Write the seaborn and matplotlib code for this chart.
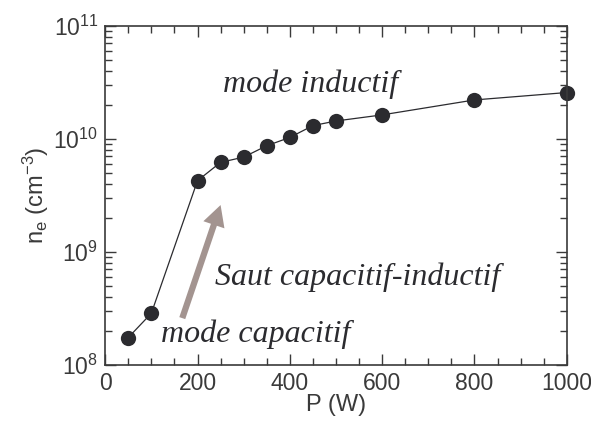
import numpy as np
import pandas as pd
import matplotlib.pyplot as plt
import seaborn as sns

# data
power_w = [50, 100, 200, 250, 300, 350, 400, 450, 500, 600, 800, 1000]
density_cm3 = [1.75e8, 2.87e8, 4.27e9, 6.2e9, 6.9e9, 8.7e9, 1.03e10, 1.31e10,
               1.44e10, 1.63e10, 2.21e10, 2.57e10]
x_ticks = [0, 200, 400, 600, 800, 1000]

df = pd.DataFrame({'P': power_w, 'ne': density_cm3})

sns.set_style('ticks')
plt.rcParams['font.family'] = ['Liberation Sans', 'DejaVu Sans']
plt.rcParams['mathtext.fontset'] = 'custom'
plt.rcParams['mathtext.rm'] = 'Liberation Sans'
plt.rcParams['mathtext.it'] = 'Liberation Sans'

fig = plt.figure(figsize=(5.91, 4.23), dpi=100)
ax = fig.add_axes([0.178, 0.137, 0.781, 0.802])

sns.lineplot(data=df, x='P', y='ne', ax=ax, color='#2b2b2f', lw=0.9,
             marker='o', markersize=11, markeredgewidth=0, markerfacecolor='#2b2b2f',
             clip_on=False)

ax.set_yscale('log')
ax.set_xlim(0, 1000)
ax.set_ylim(1e8, 1e11)
ax.set_xticks(x_ticks)
ax.set_xticks(np.arange(0, 1001, 50), minor=True)
ax.set_yticks([1e8, 1e9, 1e10, 1e11])

tc = '#3a3a3a'
ax.tick_params(which='both', direction='in', top=True, right=True, colors=tc,
               labelsize=16.5, width=1)
ax.tick_params(which='major', length=8)
ax.tick_params(which='minor', length=5)
ax.tick_params(axis='y', which='both', labelright=False, pad=5)
ax.tick_params(axis='x', pad=5)
for s in ax.spines.values():
    s.set_color(tc)
    s.set_linewidth(1.2)

ax.set_xlabel('P (W)', fontsize=17, color=tc, labelpad=-1)
ax.set_ylabel(r'n$_{\rm e}$ (cm$^{-3}$)', fontsize=17, color=tc, labelpad=2)

ax.annotate('', xy=(250, 2.6e9), xytext=(167, 2.6e8),
            arrowprops=dict(arrowstyle='simple,head_length=1.5,head_width=1.6,tail_width=0.45',
                            color='#a39490', lw=0, shrinkA=0, shrinkB=0))

tf = dict(family='Liberation Serif', style='italic', color='#2b2b2f', fontsize=23)
ax.text(444, 2.6e10, 'mode inductif', ha='center', va='baseline', **tf)
ax.text(546, 5.1e8, 'Saut capacitif-inductif', ha='center', va='baseline', **tf)
ax.text(325, 1.6e8, 'mode capacitif', ha='center', va='baseline', **tf)

fig.savefig('out.png', dpi=100)
